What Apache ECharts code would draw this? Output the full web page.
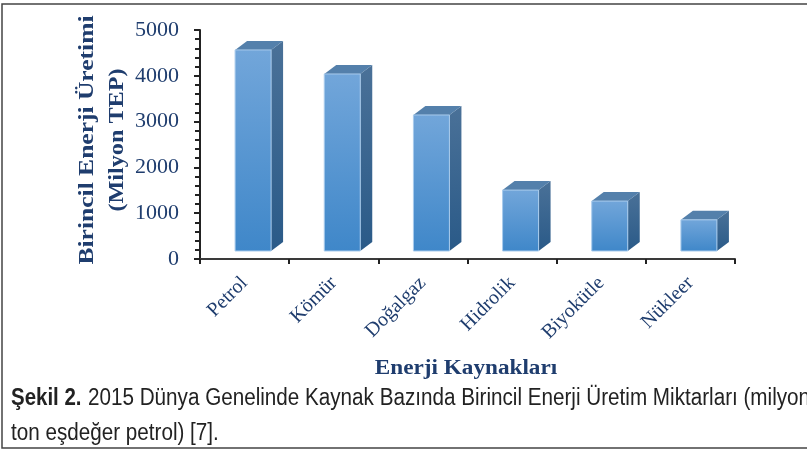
<!DOCTYPE html>
<html>
<head>
<meta charset="utf-8">
<style>
  html, body { margin: 0; padding: 0; background: #fff; }
  #chart { width: 807px; height: 450px; }
</style>
<script src="https://cdn.jsdelivr.net/npm/echarts@6/dist/echarts.min.js"></script>
</head>
<body>
<div id="chart"></div>
<script>
const categories = ['Petrol', 'Kömür', 'Doğalgaz', 'Hidrolik', 'Biyokütle', 'Nükleer'];
const values = [4390, 3865, 2970, 1330, 1090, 680];
const yTitle1 = 'Birincil Enerji Üretimi';
const yTitle2 = '(Milyon TEP)';
const xTitle = 'Enerji Kaynakları';
const captionBold = 'Şekil 2.';
const captionLine1 = '2015 Dünya Genelinde Kaynak Bazında Birincil Enerji Üretim Miktarları (milyon';
const captionLine2 = 'ton eşdeğer petrol) [7].';

const navy = '#1f3d6e';
const serif = '"Liberation Serif", serif';
const sans = '"Liberation Sans", sans-serif';

// sahte 3B sütun: ön yüz, yan yüz, üst yüz
function renderBar(params, api) {
  const base = api.coord([api.value(0), 0]);
  const top = api.coord([api.value(0), api.value(1)]);
  const x = base[0] - 9.5;
  const w = 36, dx = 12, dy = 9, lift = 8;
  const y0 = base[1] - lift;
  const y1 = top[1] - lift;
  const edge = { stroke: '#a9cbec', lineWidth: 1 };
  return {
    type: 'group',
    children: [
      {
        type: 'polygon',
        shape: { points: [[x + w, y1], [x + w + dx, y1 - dy], [x + w + dx, y0 - dy], [x + w, y0]] },
        style: {
          fill: new echarts.graphic.LinearGradient(0, 0, 0, 1, [
            { offset: 0, color: '#4a7198' },
            { offset: 1, color: '#2a5a88' }
          ])
        }
      },
      {
        type: 'polygon',
        shape: { points: [[x, y1], [x + dx, y1 - dy], [x + w + dx, y1 - dy], [x + w, y1]] },
        style: { fill: '#5480ab' }
      },
      {
        type: 'rect',
        shape: { x: x, y: y1, width: w, height: y0 - y1 },
        style: Object.assign({
          fill: new echarts.graphic.LinearGradient(0, 0, 0, 1, [
            { offset: 0, color: '#72a6da' },
            { offset: 1, color: '#3f87c9' }
          ])
        }, edge)
      }
    ]
  };
}

// yazıları esnetmek için yardımcı
function stretched(text, x, y, font, fill, scaleX, rotation, align) {
  return {
    type: 'text',
    silent: true,
    x: x,
    y: y,
    scaleX: scaleX,
    rotation: rotation || 0,
    style: { text: text, font: font, fill: fill, align: align || 'center', verticalAlign: 'middle' }
  };
}

const chart = echarts.init(document.getElementById('chart'));
chart.setOption({
  animation: false,
  backgroundColor: '#fff',
  grid: { left: 200, right: 72, top: 30, bottom: 191 },
  xAxis: {
    type: 'category',
    data: categories,
    axisLine: { lineStyle: { color: '#3a3a3a', width: 2 } },
    axisTick: { show: true, alignWithLabel: false, length: 5, lineStyle: { color: '#222', width: 2 } },
    axisLabel: { rotate: 45, margin: 21, fontFamily: serif, fontSize: 20, color: navy }
  },
  yAxis: {
    type: 'value',
    min: 0,
    max: 5000,
    interval: 1000,
    splitLine: { show: false },
    axisLine: { show: true, lineStyle: { color: '#222', width: 2 } },
    axisTick: { show: true, length: 6, lineStyle: { color: '#222', width: 2 } },
    minorTick: { show: true, splitNumber: 5, length: 5, lineStyle: { color: '#222', width: 2 } },
    axisLabel: {
      margin: 21,
      fontFamily: serif,
      fontSize: 22,
      color: navy,
      formatter: (v) => String(v)
    }
  },
  series: [
    {
      type: 'custom',
      renderItem: renderBar,
      encode: { x: 0, y: 1 },
      data: values.map((v, i) => [i, v])
    }
  ],
  graphic: [
    { type: 'rect', silent: true, shape: { x: 2, y: 4, width: 840, height: 444 }, style: { fill: 'none', stroke: '#444', lineWidth: 1.5 } },
    stretched(yTitle1, 87, 140, 'bold 22px ' + serif, navy, 1.16, Math.PI / 2),
    stretched(yTitle2, 117, 140, 'bold 22px ' + serif, navy, 1.1, Math.PI / 2),
    stretched(xTitle, 466, 369, 'bold 20px ' + serif, navy, 1.16),
    stretched(captionBold, 11, 399, 'bold 23px ' + sans, '#222', 0.89, 0, 'left'),
    stretched(captionLine1, 88, 399, '23px ' + sans, '#222', 0.898, 0, 'left'),
    stretched(captionLine2, 11, 434, '23px ' + sans, '#222', 0.898, 0, 'left')
  ]
});
</script>
</body>
</html>
